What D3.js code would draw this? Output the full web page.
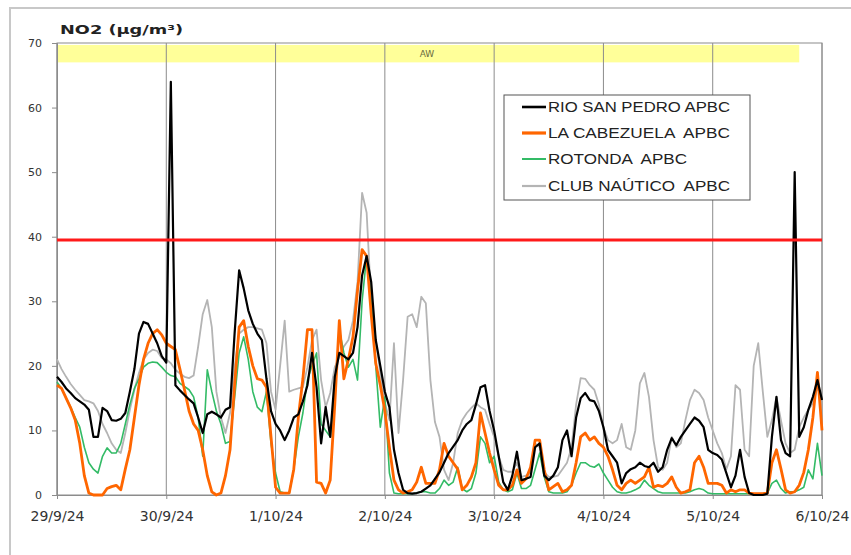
<!DOCTYPE html>
<html><head><meta charset="utf-8">
<script src="https://cdn.jsdelivr.net/npm/d3@7/dist/d3.min.js"></script>
<style>body{margin:0;background:#fff}svg{display:block}</style>
</head><body>
<svg id="c" width="851" height="555"></svg>
<script>
const dayLabels = ["29/9/24","30/9/24","1/10/24","2/10/24","3/10/24","4/10/24","5/10/24","6/10/24"];
const yTicks = [0,10,20,30,40,50,60,70];
const seriesNames = ["RIO SAN PEDRO APBC","LA CABEZUELA  APBC","ROTONDA  APBC","CLUB NAÚTICO  APBC"];
const limitValue = 39.5;
const bandLabel = "AW";
const bandRange = [67, 69.7];
const bandEndHour = 163;

const rioSanPedro = [
18.3,17.5,16.5,15.8,15,14.5,14,13.2,9,9,
13.5,13,11.6,11.5,11.8,12.7,16,19.5,25,26.8,
26.5,25,23.5,21.5,20.5,64,17,16.2,15.5,14.8,
14.2,12,9.6,12.5,12.9,12.5,12,13.2,13.6,25,
34.8,32,28.6,26.5,25,24,18,13,11,10,
8.5,10,12,12.5,14.5,17,22,16.7,8,13.6,
9,18.3,22,21.5,21,22,26,34,37,33,
24,20,16,13.6,7,3.4,0.8,0.3,0.2,0.3,
0.5,1,1.5,2.5,3.5,5,6.5,7.5,8.5,10,
11,11.6,14,16.7,17,13,10,6,2,0.8,
3,6.7,2.3,2.5,2.8,7.4,8,3,2.3,3,
4.3,8.5,10,6,12,15,15.8,14.7,14.5,13,
10.5,7,6,5,1.8,3.4,4,4.3,5,4.5,
4.3,5,3.6,4.3,7,8.8,7.7,9,10,11,
12,11.5,10.5,7,6.5,6.2,5.5,3.4,1.2,3,
7,2.8,0.3,0,0,0,0.2,9,15.2,8.5,
6.5,6,50,9,10.5,13.2,15.2,17.8,14.7];

const laCabezuela = [
17,16.5,15,13.5,11.6,8,3,0.3,0,0,
0,1,1.3,1.5,0.8,4,7,12,17,21,
23.5,25,25.6,24.8,23.5,23,22.5,19.5,16.3,13,
11,10,7,3,0.5,0,0.3,3,7,17,
26,27,23,20,18,17.8,16.7,9,1.2,0.3,
0.3,0.3,4,12,18,25.6,25.6,2,1.8,0.3,
2.3,14,27,18,21,24.5,31.7,38,37,28,
20.4,17,13,7.4,2.3,0.8,0.3,0.5,0.8,2,
4.3,1.8,1.8,1.8,3.9,8,6,5,4,0.8,
1.5,2.8,5,12.7,9.6,6.5,3.9,1.5,0.8,0.8,
1.5,3.9,1.8,2.5,4.3,8.5,8.5,3.9,0.8,1.3,
1.8,0.5,0.8,1.5,5,9,9.6,8.5,9,8,
7.4,6,3.9,1.5,0.8,1.8,2.3,1.8,2.3,2.8,
4.3,1.2,1.5,1.3,1.8,2.8,1.2,0.3,0.5,0.8,
5,6,4.3,1.8,1.8,1.8,1.5,0.3,0.8,0.5,
0.8,0.8,0.3,0.2,0.2,0.2,0.3,5,7,4,
0.8,0.3,0.5,1.5,3.5,7,12,19,10];

const rotonda = [
17.5,16.5,15,13.6,12,10.5,7.4,5,4,3.4,
6,7.3,6.5,6.5,8,11,14,16.5,18,19.8,
20.4,20.6,20.5,19.8,19,18.5,18.3,17.3,16.8,16.3,
15.2,12,6,19.4,16,13,11,8,8.3,15,
22,24.5,21,16,13.6,12.9,16,8,3.4,0.5,
0.3,0.3,4,9,12.7,17.8,20,22,11,10,
9,15.8,25.6,22,19.8,21,17.8,30,37,30,
20,10.5,15.2,3.4,0.3,0.2,0.2,0.2,0.2,0.3,
0.5,0.5,0.3,0.3,1,2.3,1.5,2,4.3,1,
0.5,1,3.4,9,8,5,6,2,0.8,0.5,
0.8,3.4,1,1,1.5,4,6.5,2.8,0.5,0.3,
0.3,0.3,0.5,1.5,3.4,5,5,4.5,4.3,4.8,
3.4,2.3,1.2,0.5,0.3,0.3,0.5,0.8,1.2,2.3,
1.5,1,0.5,0.3,0.3,0.3,0.3,0.3,0.3,0.5,
0.8,1,0.8,0.3,0.2,0.2,0.2,0.2,0.2,0.2,
0.2,0.2,0.2,0.2,0.2,0.2,0.3,1.8,2.3,1,
0.3,0.5,0.5,0.8,1.2,3.9,2.5,8,3];

const clubNautico = [
21,19.5,18.3,17.2,16.3,15.5,14.7,14.5,14.2,13,
11,9.6,8,7,6.5,9.6,13.2,16.3,18.9,21,
22,22.5,22.3,21.2,21,20.4,19.4,18.8,18.3,18.1,
18.5,23,28,30.2,26,16,12,9.6,12.7,19.8,
25,25.6,26,26,25.8,25.6,23.5,16,13.2,20,
27,16,16.3,16.5,16.7,19.8,24,25.6,17.8,13.6,
15.8,19.8,21.4,23,24,27,33,46.8,43.7,30,
24,18.9,14.2,11.6,23.5,9.6,17.8,27.6,28,26,
30.7,29.7,17.8,11.3,9,3.9,2.3,5,9.6,11.6,
12.7,13.5,14.2,13.6,13.2,11,9,6,3.9,3.6,
3.6,5,2.8,3,3.5,8,7.4,3.5,2.8,2.8,
3,4,5,7.4,14,18.1,18,17,16.3,14,
10.5,8.5,8,8.5,11,7.4,7,10,17.3,18.9,
15.2,8.5,4.3,3.9,5,9,7.4,8,11.6,14.7,
16.3,15.8,14.7,12,10,8,6.5,4,6,17,
16.3,7,6,20,23.5,16,9,11.6,15.2,11.5,
8,6.5,7,10.5,12,13.2,14.2,16.7,14.7];

const colors = ["#000000","#ff6600","#33bb66","#b4b4b4"];
const widths = [2.2,2.8,1.6,1.8];

const svg = d3.select("#c");
const L = 57, R = 822, T = 43, B = 495;
const x = d3.scaleLinear().domain([0, 168]).range([L, R]);
const y = d3.scaleLinear().domain([0, 70]).range([B, T]);

// outer chart frame
svg.append("rect").attr("x",10).attr("y",8).attr("width",900).attr("height",600)
  .attr("fill","none").attr("stroke","#c8c8c8").attr("stroke-width",2);

// yellow band
svg.append("rect").attr("x", x(0)).attr("y", y(bandRange[1]))
  .attr("width", x(bandEndHour) - x(0)).attr("height", y(bandRange[0]) - y(bandRange[1]))
  .attr("fill", "#ffff99");
svg.append("text").attr("x", 427).attr("y", y((bandRange[0]+bandRange[1])/2) + 3)
  .attr("text-anchor","middle").attr("font-family","DejaVu Sans").attr("font-size",9)
  .attr("fill","#6b6b40").text(bandLabel);

// vertical gridlines at each day
const dayHours = dayLabels.map((d,i)=>i*24);
svg.append("g").selectAll("line").data(dayHours).join("line")
  .attr("x1", d=>x(d)).attr("x2", d=>x(d)).attr("y1", y(70)).attr("y2", y(0))
  .attr("stroke","#8c8c8c").attr("stroke-width",1);

// plot border
svg.append("rect").attr("x",L).attr("y",T).attr("width",R-L).attr("height",B-T)
  .attr("fill","none").attr("stroke","#8c8c8c").attr("stroke-width",1);

// axes
const yAxis = d3.axisLeft(y).tickValues(yTicks).tickSize(5).tickPadding(10);
const gy = svg.append("g").attr("transform",`translate(${L},0)`).call(yAxis);
gy.select(".domain").attr("stroke","#8c8c8c");
gy.selectAll(".tick line").attr("stroke","#8c8c8c");
gy.selectAll("text").attr("font-family","DejaVu Sans").attr("font-size",11).attr("fill","#333");

const xAxis = d3.axisBottom(x).tickValues(dayHours).tickFormat((d,i)=>dayLabels[i]).tickSize(4).tickPadding(12);
const gx = svg.append("g").attr("transform",`translate(0,${B})`).call(xAxis);
gx.select(".domain").attr("stroke","#8c8c8c");
gx.selectAll(".tick line").attr("stroke","#8c8c8c");
gx.selectAll("text").attr("font-family","DejaVu Sans").attr("font-size",14).attr("fill","#333");

// series
const seriesData = [rioSanPedro, laCabezuela, rotonda, clubNautico];
const line = d3.line().x((d,i)=>x(i)).y(d=>y(d));
const drawOrder = [3,2,1,0];
drawOrder.forEach(k=>{
  svg.append("path").datum(seriesData[k]).attr("d", line)
    .attr("fill","none").attr("stroke", colors[k]).attr("stroke-width", widths[k])
    .attr("stroke-linejoin","round");
});

// limit line
svg.append("line").attr("x1",x(0)).attr("x2",x(168)).attr("y1",y(limitValue)).attr("y2",y(limitValue))
  .attr("stroke","#ff1a1a").attr("stroke-width",3);

// title
svg.append("text").attr("x",60).attr("y",34).attr("font-family","DejaVu Sans")
  .attr("font-weight","bold").attr("font-size",13).attr("fill","#222")
  .attr("textLength",123).attr("lengthAdjust","spacingAndGlyphs").text("NO2 (µg/m³)");

// legend
const lg = svg.append("g");
lg.append("rect").attr("x",504).attr("y",95).attr("width",246).attr("height",105)
  .attr("fill","#fff").attr("stroke","#555").attr("stroke-width",1);
const rowY = [107,133,159,186];
const textLens = [182,182,139,182];
seriesNames.forEach((n,i)=>{
  lg.append("line").attr("x1",522).attr("x2",546).attr("y1",rowY[i]).attr("y2",rowY[i])
    .attr("stroke",colors[i]).attr("stroke-width",widths[i]+0.4);
  lg.append("text").attr("x",548).attr("y",rowY[i]+5).attr("font-family","Liberation Sans")
    .attr("font-size",14).attr("fill","#222").attr("xml:space","preserve").style("white-space","pre")
    .attr("textLength",textLens[i]).attr("lengthAdjust","spacingAndGlyphs").text(n);
});
</script>
</body></html>
